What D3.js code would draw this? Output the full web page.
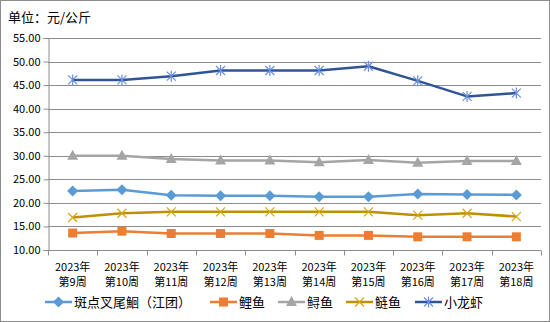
<!DOCTYPE html>
<html><head><meta charset="utf-8">
<script src="https://cdn.jsdelivr.net/npm/d3@7"></script>
<style>body{margin:0;background:#fff}svg{display:block}</style>
</head><body>
<script>
const categories = ["第9周","第10周","第11周","第12周","第13周","第14周","第15周","第16周","第17周","第18周"];
const yearLabel = "2023年";
const seriesNames = ["斑点叉尾鮰（江团）","鲤鱼","鲟鱼","鲢鱼","小龙虾"];
const catfish = [22.5,22.8,21.6,21.5,21.5,21.3,21.3,21.9,21.8,21.7];
const carp = [13.6,14.0,13.5,13.5,13.5,13.1,13.1,12.8,12.8,12.8];
const sturgeon = [30.0,30.0,29.3,29.0,29.0,28.6,29.1,28.5,28.9,28.9];
const silverCarp = [16.9,17.8,18.1,18.1,18.1,18.1,18.1,17.4,17.8,17.1];
const crayfish = [46.1,46.1,46.9,48.1,48.1,48.1,49.0,45.9,42.6,43.3];
const yTicks = [10,15,20,25,30,35,40,45,50,55];

const W=550,H=322;
const svg=d3.select("body").append("svg").attr("width",W).attr("height",H);
const font='"Noto Sans CJK SC", sans-serif';
svg.append("rect").attr("x",0.5).attr("y",0.5).attr("width",W-1).attr("height",H-1).attr("fill","#fff").attr("stroke","#8c8c8c");

const L=48,R=541,T=38,B=250;
const x=d3.scaleBand().domain(categories).range([L,R]);
const y=d3.scaleLinear().domain([10,55]).range([B,T]);

svg.append("text").attr("x",8).attr("y",22).attr("font-family",font).attr("font-size",13).attr("fill","#000").text("单位：元/公斤");

// grid
svg.append("g").selectAll("line").data(yTicks).join("line")
 .attr("x1",L).attr("x2",R).attr("y1",d=>Math.round(y(d))+0.5).attr("y2",d=>Math.round(y(d))+0.5)
 .attr("stroke","#8c8c8c").attr("stroke-width",1);
// y axis
const ya=svg.append("g").attr("transform",`translate(${L+0.5},0)`)
 .call(d3.axisLeft(y).tickValues(yTicks).tickFormat(d3.format(".2f")).tickSize(5).tickPadding(3));
ya.select(".domain").attr("stroke","#8c8c8c");
ya.selectAll(".tick line").attr("stroke","#8c8c8c");
ya.selectAll("text").attr("font-family",font).attr("font-size",11).attr("fill","#000");
// x axis
const xa=svg.append("g").attr("transform",`translate(0,${B+0.5})`);
xa.append("line").attr("x1",L).attr("x2",R).attr("stroke","#8c8c8c");
const bounds=categories.map(c=>x(c)).concat([R]);
xa.selectAll("line.t").data(bounds).join("line").attr("class","t")
 .attr("x1",d=>Math.round(d)+0.5).attr("x2",d=>Math.round(d)+0.5).attr("y1",0).attr("y2",5).attr("stroke","#8c8c8c");
const lab=xa.selectAll("text").data(categories).join("text")
 .attr("font-family",font).attr("font-size",11).attr("fill","#000").attr("text-anchor","middle");
lab.append("tspan").attr("x",d=>x(d)+x.bandwidth()/2).attr("y",20).text(yearLabel);
lab.append("tspan").attr("x",d=>x(d)+x.bandwidth()/2).attr("y",35).text(d=>d);

const series=[
 {name:seriesNames[0],vals:catfish,color:"#5B9BD5",mark:"#5B9BD5",sym:"diamond"},
 {name:seriesNames[1],vals:carp,color:"#ED7D31",mark:"#ED7D31",sym:"square"},
 {name:seriesNames[2],vals:sturgeon,color:"#A5A5A5",mark:"#A5A5A5",sym:"triangle"},
 {name:seriesNames[3],vals:silverCarp,color:"#BF9000",mark:"#D4A520",sym:"x"},
 {name:seriesNames[4],vals:crayfish,color:"#2F5597",mark:"#6A8FDB",sym:"star"}
];
function drawMarker(g,sym,cx,cy,color){
 if(sym==="diamond"){g.append("path").attr("d",`M${cx},${cy-5.5}L${cx+5.5},${cy}L${cx},${cy+5.5}L${cx-5.5},${cy}Z`).attr("fill",color);}
 else if(sym==="square"){g.append("rect").attr("x",cx-4.5).attr("y",cy-4.5).attr("width",9).attr("height",9).attr("fill",color);}
 else if(sym==="triangle"){g.append("path").attr("d",`M${cx},${cy-6}L${cx+5.5},${cy+4}L${cx-5.5},${cy+4}Z`).attr("fill",color);}
 else if(sym==="x"){g.append("path").attr("d",`M${cx-4.5},${cy-4.5}L${cx+4.5},${cy+4.5}M${cx+4.5},${cy-4.5}L${cx-4.5},${cy+4.5}`).attr("stroke",color).attr("stroke-width",1.2).attr("fill","none");}
 else {g.append("path").attr("d",`M${cx-4.5},${cy-4.5}L${cx+4.5},${cy+4.5}M${cx+4.5},${cy-4.5}L${cx-4.5},${cy+4.5}M${cx},${cy-5.5}L${cx},${cy+5.5}`).attr("stroke",color).attr("stroke-width",1.2).attr("fill","none");}
}
const line=d3.line().x((d,i)=>x(categories[i])+x.bandwidth()/2).y(d=>y(d));
series.forEach(s=>{
 svg.append("path").datum(s.vals).attr("d",line).attr("fill","none").attr("stroke",s.color).attr("stroke-width",2.5).attr("stroke-linejoin","round");
 const g=svg.append("g");
 s.vals.forEach((v,i)=>drawMarker(g,s.sym,x(categories[i])+x.bandwidth()/2,y(v),s.mark));
});

// legend
const legX=[45,210,278,346,415];
const legY=302;
series.forEach((s,i)=>{
 const g=svg.append("g");
 const x0=legX[i];
 g.append("line").attr("x1",x0).attr("x2",x0+27).attr("y1",legY).attr("y2",legY).attr("stroke",s.color).attr("stroke-width",2.5);
 drawMarker(g,s.sym,x0+13.5,legY,s.mark);
 g.append("text").attr("x",x0+29).attr("y",legY+5).attr("font-family",font).attr("font-size",13).attr("fill","#000").text(s.name);
});
</script>
</body></html>
